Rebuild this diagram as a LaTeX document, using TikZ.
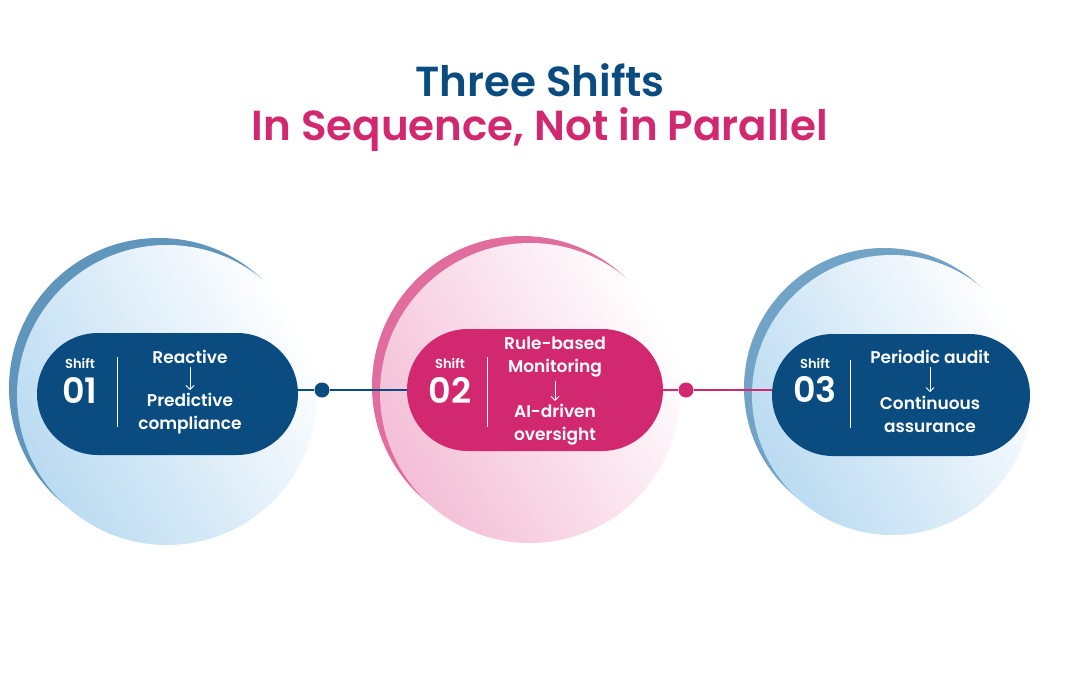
\documentclass[tikz,border=0pt]{standalone}
\usepackage{fontspec}
\setmainfont{Poppins}[BoldFont={* SemiBold}]
\usetikzlibrary{shapes.misc,arrows.meta}
\definecolor{nb}{HTML}{0A4C80}
\definecolor{pk}{HTML}{D1286F}
\definecolor{lb}{HTML}{A9D2EE}
\definecolor{lp}{HTML}{F2B3CF}
\tikzset{
 pill/.style={rounded rectangle, minimum width=#1, minimum height=122pt, inner sep=0},
 txt/.style={text=white, font=\bfseries, align=center},
 sh/.style={txt, font=\bfseries\fontsize{13}{14}\selectfont},
 num/.style={txt, font=\bfseries\fontsize{35}{35}\selectfont},
 body/.style={txt, font=\bfseries\fontsize{17}{23}\selectfont},
 conn/.style={line width=1.3pt},
 dot/.style={circle, minimum size=15pt, inner sep=0},
 arr/.style={white, line width=0.9pt, -{Straight Barb[length=4pt]}},
}
\begin{document}
\begin{tikzpicture}[x=1pt,y=-1pt]
\useasboundingbox[fill=white] (0,0) rectangle (1080,675);
\node[font=\bfseries\fontsize{42}{46}\selectfont, text=nb] (t1) at (540,80) {Three Shifts};
\node[font=\bfseries\fontsize{42}{46}\selectfont, text=pk] (t2) at (540,130) {In Sequence, Not in Parallel};
% circles
\fill[nb!45!lb] (159,388) circle (150);
\shade[left color=lb!80!white, right color=white, shading angle=120] (167,395) circle (150);
\fill[pk!50!lp] (522,386) circle (150);
\shade[left color=lp!85!white, right color=white, shading angle=120] (530,393) circle (150);
\fill[nb!35!lb] (884,388) circle (140);
\shade[left color=lb!80!white, right color=white, shading angle=120] (892,395) circle (140);
% pills
\node[pill=261pt, fill=nb] (p1) at (167.5,394) {};
\node[pill=256pt, fill=pk] (p2) at (535,390) {};
\node[pill=258pt, fill=nb] (p3) at (901,395) {};
\node[dot, fill=nb] (d1) at (322,390) {};
\node[dot, fill=pk] (d2) at (686,390) {};
\draw[conn, nb] (p1.east |- d1) -- (d1) -- (p2.west |- d1);
\draw[conn, pk] (p2.east |- d2) -- (d2) -- (p3.west |- d2);
% pill 1
\node[sh] (s1) at (80,363) {Shift};
\node[num] (n1) at (80,390) {01};
\draw[white, line width=0.8pt] (117,357) -- (117,427);
\node[body] (a1) at (190,357) {Reactive};
\node[body] (b1) at (190,414) {Predictive\\compliance};
\draw[arr] (a1.south) -- (b1.north);
% pill 2
\node[sh] (s2) at (450,363) {Shift};
\node[num] (n2) at (450,390) {02};
\draw[white, line width=0.8pt] (487,357) -- (487,427);
\node[body] (a2) at (555,357) {Rule-based\\Monitoring};
\node[body] (b2) at (555,425) {AI-driven\\oversight};
\draw[arr] (a2.south) -- (b2.north);
% pill 3
\node[sh] (s3) at (815,363) {Shift};
\node[num] (n3) at (815,390) {03};
\draw[white, line width=0.8pt] (850,360) -- (850,428);
\node[body] (a3) at (930,357) {Periodic audit};
\node[body] (b3) at (930,414) {Continuous\\assurance};
\draw[arr] (a3.south) -- (b3.north);
\end{tikzpicture}
\end{document}
